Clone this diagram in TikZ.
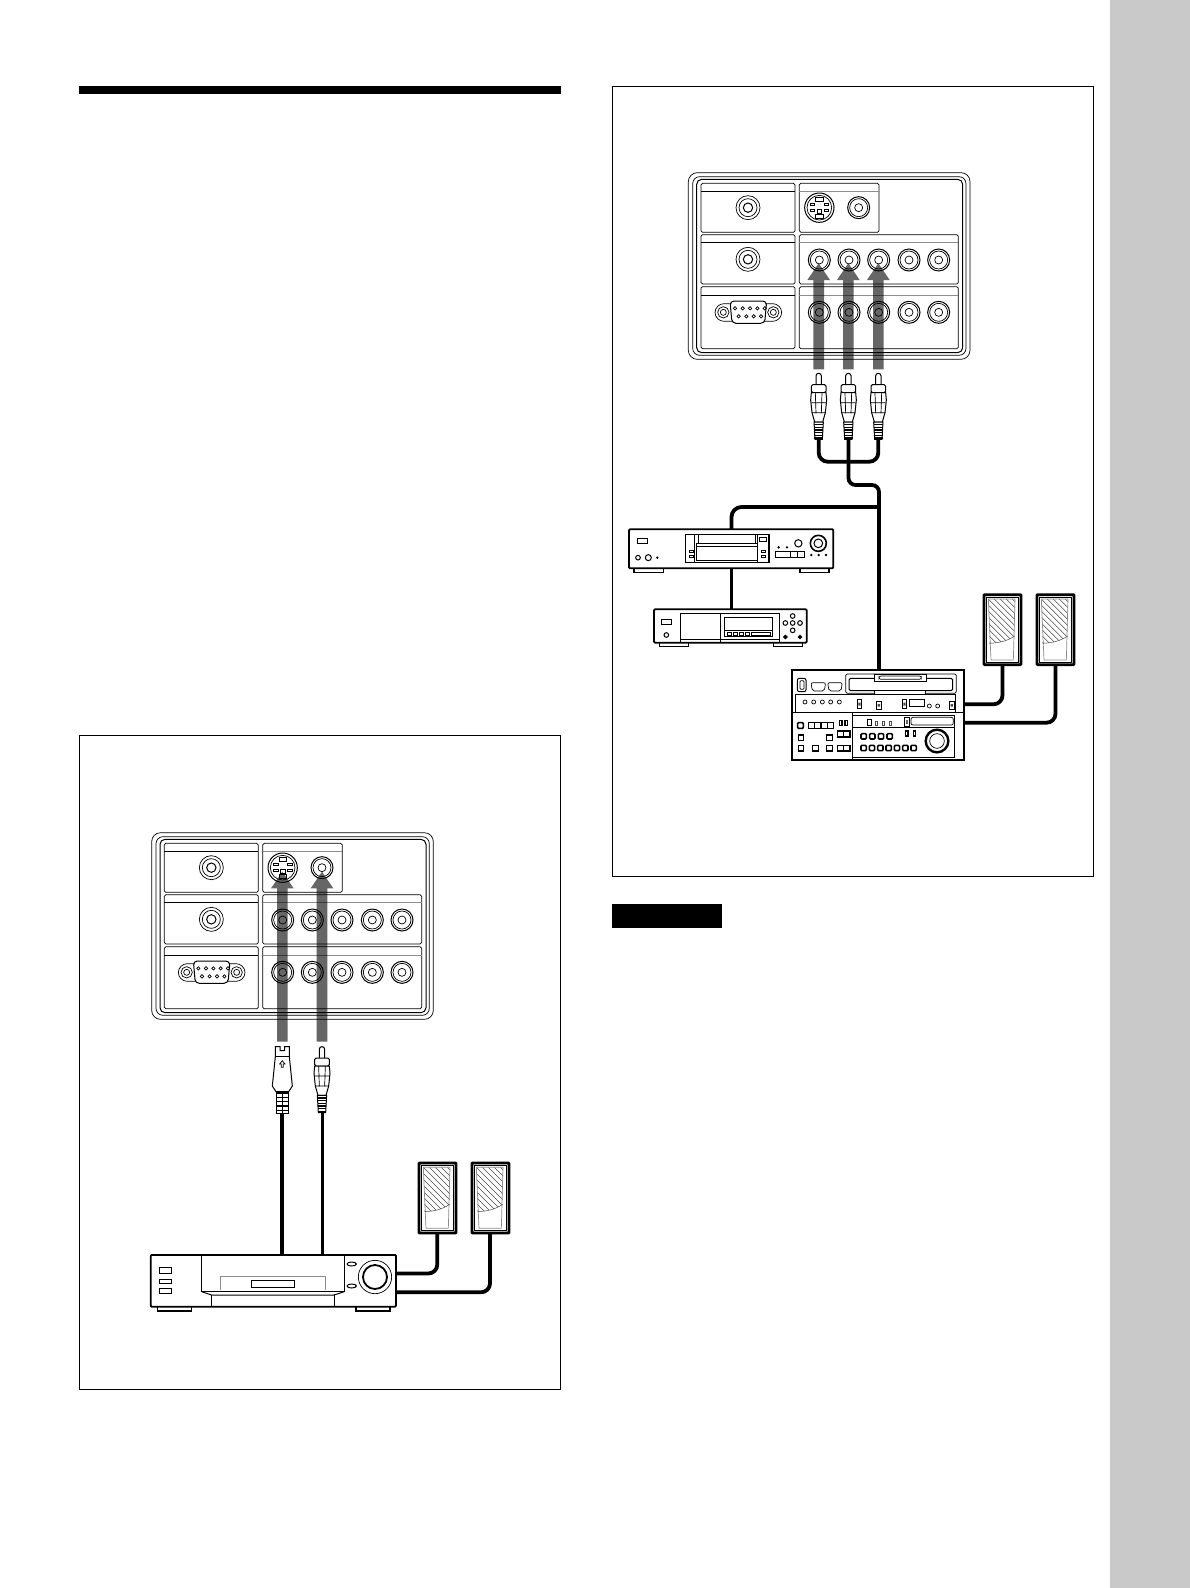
\documentclass[tikz,border=0pt]{standalone}
\usepackage{tikz}
\tikzset{
  thin line/.style={line width=.7pt},
  med line/.style={line width=1pt},
  thick line/.style={line width=1.6pt},
  hvy line/.style={line width=2.4pt},
  cable/.style={line width=3.8pt,black},
  ghost line/.style={line width=.7pt,black!45},
  gray arrow/.style={fill=black,fill opacity=.6,draw=none},
  rawunits/.style={x=.33333pt,y=-.33333pt}
}
\newcommand\jackT[2]{%
  \draw[thin line,fill=white] (#1,#2) circle[radius=36];
  \draw[thin line] (#1,#2) circle[radius=27];
  \draw[med line] (#1,#2) circle[radius=14];}
\newcommand\jackR[2]{%
  \draw[med line,fill=white] (#1,#2) circle[radius=33];
  \draw[thin line] (#1,#2) circle[radius=27];
  \draw[thin line] (#1,#2) circle[radius=12];}
\newcommand\panelbox{%
  \draw[thin line,rounded corners=9pt] (65,38) rectangle (910,598);
  \draw[thin line,rounded corners=7pt] (78,50) rectangle (898,586);
  \draw[med line,rounded corners=5pt] (90,58) rectangle (888,578);
  \begin{scope}[thin line,rounded corners=1.5pt]
    \draw (103,70) rectangle (385,217);
    \draw (398,70) rectangle (637,217);
    \draw (103,224) rectangle (385,372);
    \draw (398,224) rectangle (875,372);
    \draw (103,380) rectangle (385,566);
    \draw (398,380) rectangle (875,566);
  \end{scope}
  \draw[thin line] (103,95)--(385,95) (103,248)--(385,248) (103,405)--(385,405);
  \draw[ghost line] (398,95)--(637,95) (398,248)--(875,248) (398,405)--(875,405);
  \jackT{244}{143}\jackT{244}{298}
  % S-video socket
  \draw[med line,fill=white] (458,143) circle[radius=44];
  \draw[thin line] (458,143) circle[radius=37];
  \draw[thin line] (447,112) rectangle (469,124);
  \draw[thin line] (447,164) rectangle (469,174);
  \foreach \sx in {-1,1}{
    \draw[thin line] ({458+\sx*21-7},131) rectangle ({458+\sx*21+7},137);
    \draw[thin line] ({458+\sx*21-7},149) rectangle ({458+\sx*21+7},155);}
  \draw[thin line] (451,149)--(465,149)--(465,160)--(451,160)--cycle;
  \jackR{576}{143}
  \foreach \jx in {458,547,636,727,816}{\jackR{\jx}{300}\jackR{\jx}{457}}
  % D-sub
  \draw[thin line,rounded corners=9pt,fill=white] (145,431) rectangle (345,484);
  \foreach \sx in {170,320}{
    \draw[thin line] (\sx,457) circle[radius=17];
    \draw[thin line] (\sx,457) circle[radius=9];}
  \draw[med line,fill=white,rounded corners=4pt] (190,423)--(300,423)--(294,490)--(196,490)--cycle;
  \foreach \px in {205,228,250,272,294}{\draw[thin line] (\px,445) circle[radius=5];}
  \foreach \px in {216,239,261,283}{\draw[thin line] (\px,469) circle[radius=5];}
}
\newcommand\bigarrow[3]{% x, tip y, bottom y
  \fill[gray arrow] (#1-16,#3)--(#1-16,#2+50)--(#1-34,#2+50)--(#1,#2)--(#1+34,#2+50)--(#1+16,#2+50)--(#1+16,#3)--cycle;}
\newcommand\plugS{% raw units, origin top centre
  \draw[med line,fill=white] (-21,0)--(-7,0)--(-7,12)--(7,12)--(7,0)--(21,0)--(21,30)--(30,118)--(19,135)--(-19,135)--(-30,118)--(-21,30)--cycle;
  \draw[thin line] (-21,30)--(21,30);
  \draw[thin line] (0,42)--(-8,52)--(-3,52)--(-3,62)--(3,62)--(3,52)--(8,52)--cycle;
  \draw[med line,fill=white] (-19,135) rectangle (19,200);
  \fill (-19,135) rectangle (19,141);
  \foreach \yy in {150,163,176,189}{\fill (-19,\yy) rectangle (19,\yy+4);}
  \fill (-2.5,135) rectangle (2.5,200);
}
\newcommand\plugR{%
  \draw[med line,fill=white,rounded corners=2.5pt] (-8,34)--(-8,0)--(8,0)--(8,34);
  \draw[med line,fill=white,rounded corners=1.5pt] (-22,34) rectangle (22,58);
  \draw[med line,fill=white] (-22,58)--(-24,80)--(-20,118)--(-12,146)--(12,146)--(20,118)--(24,80)--(22,58)--cycle;
  \draw[thin line] (-10,58)--(-8,120) (10,58)--(8,120) (-22,88)--(22,88) (-20,118)--(20,118);
  \draw[med line,fill=white] (-14,146)--(14,146)--(11,198)--(-11,198)--cycle;
  \foreach \yy in {152,160,168,176,184,192}{\fill (-13,\yy) rectangle (13,\yy+4);}
}
\newcommand\speakerbox{% raw units, origin top left
  \draw[line width=2.7pt,rounded corners=.6pt] (4,4) rectangle (115,214);
  \draw[thin line] (11,11) rectangle (108,207);
  \begin{scope}
    \clip (17,17)--(97,17)--(96,128)..controls (70,145) and (50,148)..(21,150)--cycle;
    \foreach \hh in {-198,-180,...,90}{\draw[line width=.5pt,black!70] (\hh,0)--++(220,220);}
  \end{scope}
  \draw[ghost line] (17,17)--(25,200)--(92,200)--(97,17)--cycle;
  \draw[line width=.5pt,black!70] (21,150)..controls (50,148) and (70,145)..(96,128);
}
\begin{document}
\begin{tikzpicture}[x=1pt,y=-1pt]
\useasboundingbox (0,0) rectangle (1190,1588);
\fill[white] (0,0) rectangle (1190,1588);
\fill[black!21] (1110,0) rectangle (1190,1588);
\fill[black] (79,86) rectangle (561,94);
\fill[black] (612,904) rectangle (722,928);
\draw[line width=1pt] (79,735.5) rectangle (560.5,1389.7);
\draw[line width=1pt] (612.5,86.3) rectangle (1093.5,876.3);

% ---------- left figure: panel ----------
\begin{scope}[shift={(130,820)},rawunits]
  \panelbox
  \bigarrow{457}{155}{665}
  \bigarrow{576}{155}{665}
  \begin{scope}[shift={(457,680)}]\plugS\end{scope}
  \begin{scope}[shift={(576,680)}]\plugR\end{scope}
\end{scope}
\coordinate (sEnd) at (282.3,1113);
\coordinate (rEnd) at (322.5,1113);
\coordinate (vcrA) at (282.3,1256);
\coordinate (vcrB) at (322.5,1256);
\draw[cable] (sEnd)--(vcrA);
\draw[cable] (rEnd)--(vcrB);

% ---------- left figure: VCR and speakers ----------
\begin{scope}[shift={(130,1130)},rawunits]
  \draw[thick line,fill=white] (82,528) rectangle (185,543);
  \draw[thick line,fill=white] (678,528) rectangle (780,543);
  \draw[line width=1.8pt,fill=white,rounded corners=1pt] (62,375) rectangle (798,530);
  \draw[thick line] (215,378)--(215,485)--(643,485)--(643,378);
  \draw[med line] (215,485)--(245,495)--(612,495)--(643,485);
  \draw[med line] (245,495)--(245,527) (612,495)--(612,527);
  \draw[ghost line] (272,480)--(272,440)--(585,440)--(585,480);
  \draw[med line] (365,452) rectangle (492,472);
  \draw[med line] (88,412) rectangle (124,430);
  \draw[med line] (88,447) rectangle (124,460);
  \draw[med line] (88,474) rectangle (124,490);
  \draw[med line] (665,402) ellipse[x radius=14,y radius=6];
  \draw[med line] (665,468) ellipse[x radius=14,y radius=6];
  \draw[thin line] (735,441) circle[radius=50];
  \draw[line width=1.8pt] (735,441) circle[radius=36];
  \begin{scope}[shift={(863,95)}]\speakerbox\end{scope}
  \begin{scope}[shift={(1022,95)}]\speakerbox\end{scope}
\end{scope}
\coordinate (spkLa) at (437.3,1234);
\coordinate (spkLb) at (490,1234);
\coordinate (vcrC) at (397,1273.5);
\coordinate (vcrD) at (397,1292.3);
\draw[cable,rounded corners=9pt] (spkLa)--(spkLa|-vcrC)--(vcrC);
\draw[cable,rounded corners=9pt] (spkLb)--(spkLb|-vcrD)--(vcrD);

% ---------- right figure: panel ----------
\begin{scope}[shift={(666.67,160)},rawunits]
  \panelbox
\end{scope}
\begin{scope}[shift={(670,160)},rawunits]
  \bigarrow{446}{310}{628}
  \bigarrow{535}{310}{628}
  \bigarrow{625}{310}{628}
  \begin{scope}[shift={(446,640)}]\plugR\end{scope}
  \begin{scope}[shift={(535,640)}]\plugR\end{scope}
  \begin{scope}[shift={(625,640)}]\plugR\end{scope}
\end{scope}
\coordinate (pA) at (818.7,438);
\coordinate (pB) at (848.5,438);
\coordinate (pC) at (878.3,438);
\coordinate (forkY) at (850,461.7);
\coordinate (jogY) at (860,485);
\coordinate (busX) at (879,507);
\coordinate (dev4top) at (879,671);
\coordinate (dev1top) at (731.5,530);
\coordinate (dev1bot) at (731.5,568);
\coordinate (dev3top) at (731.5,610);
\draw[cable,rounded corners=9pt] (pA)--(pA|-forkY)--(pC|-forkY)--(pC);
\draw[cable,rounded corners=7pt] (pB)--(pB|-jogY)--(busX|-jogY)--(dev4top);
\draw[cable,rounded corners=10pt] (dev1top)--(dev1top|-busX)--(busX);
\draw[cable] (dev1bot)--(dev3top);

% ---------- deck and tape unit ----------
\begin{scope}[shift={(620,490)},rawunits]
  \draw[thick line,fill=white] (42,233) rectangle (130,247);
  \draw[thick line,fill=white] (540,233) rectangle (627,247);
  \draw[line width=1.8pt,fill=white,rounded corners=1pt] (27,118) rectangle (640,235);
  \draw[med line] (52,145) rectangle (83,160);
  \draw[med line] (54,203) circle[radius=7];
  \draw[med line] (85,203) circle[radius=9];
  \fill (112,203) circle[radius=4];
  \draw[thick line] (197,133) rectangle (447,217);
  \draw[med line] (224,135)--(224,215) (413,135)--(413,215);
  \draw[thin line] (235,135)--(235,160) (406,135)--(406,160) (229,210)--(412,210);
  \draw[med line] (229,160) rectangle (412,170);
  \draw[med line] (229,170)--(229,210) (412,170)--(412,210);
  \draw[thin line] (208,180) rectangle (221,188) (208,195) rectangle (221,203);
  \draw[thin line] (424,180) rectangle (435,188) (424,195) rectangle (435,203);
  \draw[thin line] (418,143) rectangle (440,155);
  \fill (476,172) circle[radius=4] (501,172) circle[radius=4];
  \draw[med line] (535,160) circle[radius=11];
  \draw[thick line] (595,160) circle[radius=24];
  \draw[med line] (595,160) circle[radius=13];
  \fill (574,195) circle[radius=4] (596,195) circle[radius=4] (618,195) circle[radius=4];
  \draw[med line] (466,184) rectangle (553,203) (512,184)--(512,203) (533,184)--(533,203);

  \draw[thick line,fill=white] (118,456) rectangle (205,470);
  \draw[thick line,fill=white] (460,456) rectangle (547,470);
  \draw[line width=1.8pt,fill=white,rounded corners=1pt] (102,358) rectangle (560,458);
  \draw[med line] (124,387) rectangle (155,404);
  \draw[med line] (139,435) circle[radius=7];
  \draw[med line] (181,370)--(181,455) (301,370)--(301,455) (478,370)--(478,455);
  \draw[med line] (181,370)--(478,370) (181,449)--(478,449);
  \draw[med line] (313,382) rectangle (458,440);
  \draw[med line] (313,422)--(458,422);
  \foreach \bx in {322,340,358,376}{\draw[thin line] (\bx,427) rectangle (\bx+13,436);}
  \draw[thin line] (394,427) rectangle (452,436);
  \foreach \cc in {(518,378),(496,399),(518,399),(540,399),(518,421)}{\draw[med line] \cc circle[radius=7];}
  \draw[thick line] (496,441) circle[radius=4];
  \draw[thick line] (540,441) circle[radius=4];
\end{scope}

% ---------- VTR and speakers ----------
\begin{scope}[shift={(780,590)},rawunits]
  \draw[line width=2pt,fill=white] (36,240) rectangle (552,510);
  \draw[thin line,rounded corners=1.5pt] (197,252) rectangle (529,310);
  \draw[med line,rounded corners=1.5pt] (207,265) rectangle (518,302);
  \draw[thin line,fill=white] (282,252) rectangle (438,273);
  \draw[thin line,rounded corners=2pt] (297,258) rectangle (424,268);
  \draw[thin line,fill=white] (282,300) rectangle (436,312);
  \draw[med line,rounded corners=2pt] (52,265) rectangle (78,305);
  \draw[thin line,rounded corners=1pt] (60,272) rectangle (72,298);
  \draw[thin line,rounded corners=2pt] (93,278)--(137,278)--(133,303)--(97,303)--cycle;
  \draw[thin line,rounded corners=2pt] (143,278)--(187,278)--(183,303)--(147,303)--cycle;
  \draw[thin line] (47,367)--(47,312)--(527,312)--(527,367);
  \foreach \cx in {75,101,127,152,178}{\draw[thin line] (\cx,336) circle[radius=6];}
  \draw[thin line] (232,327) rectangle (245,355) (289,335) rectangle (304,357) (367,327) rectangle (380,355) (508,335) rectangle (523,357);
  \fill[black!70] (235,338) rectangle (242,347) (293,342) rectangle (300,350) (370,338) rectangle (377,347) (512,342) rectangle (519,350);
  \draw[thin line] (388,327) rectangle (433,350);
  \draw[thin line] (448,348) circle[radius=6] (473,348) circle[radius=6];
  \draw[line width=1.6pt] (36,367)--(552,367);
  \draw[thick line] (218,367)--(218,510);
  \draw[thin line] (218,377)--(522,377)--(522,503)--(218,503);
  \draw[thin line] (218,412)--(522,412);
  \draw[line width=1.4pt] (262,389) rectangle (275,407);
  \foreach \cx in {286,306,328}{\draw[line width=.5pt,black!70] (\cx,395) rectangle (\cx+7,407);}
  \draw[thin line] (373,382) rectangle (388,410);
  \fill[black!60] (377,390) rectangle (384,402);
  \draw[thin line,rounded corners=2pt] (393,382) rectangle (520,405);
  % left keys
  \draw[thick line,rounded corners=1pt] (53,398) rectangle (70,415);
  \draw[thick line] (85,398) rectangle (160,415) (104,398)--(104,415) (123,398)--(123,415) (142,398)--(142,415);
  \draw[thick line] (178,392) rectangle (186,406) (195,392) rectangle (203,406);
  \draw[thick line] (172,423) rectangle (210,441) (191,423)--(191,441);
  \draw[thick line] (55,435) rectangle (71,451) (140,435) rectangle (157,451);
  \draw[thick line] (55,467) rectangle (71,483) (98,467) rectangle (115,483) (140,467) rectangle (157,483);
  \draw[thick line] (172,467) rectangle (210,483) (191,467)--(191,483);
  \foreach \kx in {243,269,295,321}{\draw[thick line,rounded corners=1pt] (\kx,431) rectangle (\kx+16,447);}
  \foreach \kx in {243,268,293,318,343,368,393}{\draw[thick line,rounded corners=1pt] (\kx,466) rectangle (\kx+16,482);}
  \draw[thick line] (377,423) rectangle (384,438) (400,423) rectangle (407,438);
  \draw[hvy line] (471,453) circle[radius=34];
  \draw[thin line] (471,453) circle[radius=22];
  \begin{scope}[shift={(608,10)}]\speakerbox\end{scope}
  \begin{scope}[shift={(767,10)}]\speakerbox\end{scope}
\end{scope}
\coordinate (spkRa) at (1002.5,665);
\coordinate (spkRb) at (1055.5,665);
\coordinate (vtrC) at (965,704.3);
\coordinate (vtrD) at (965,722.7);
\draw[cable,rounded corners=9pt] (spkRa)--(spkRa|-vtrC)--(vtrC);
\draw[cable,rounded corners=9pt] (spkRb)--(spkRb|-vtrD)--(vtrD);
\end{tikzpicture}
\end{document}
